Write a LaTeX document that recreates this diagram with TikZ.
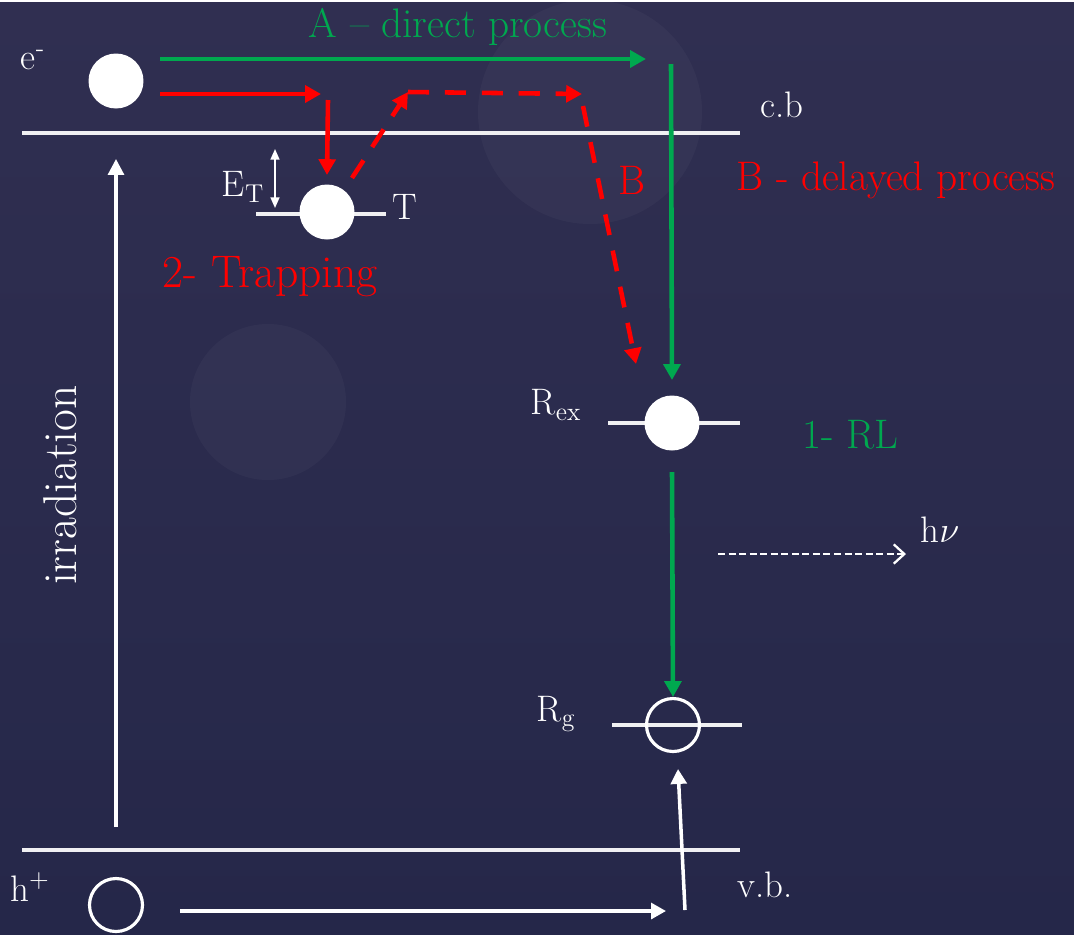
\documentclass[tikz,border=0pt]{standalone}
\usetikzlibrary{arrows.meta}
\definecolor{bgtop}{HTML}{302F51}
\definecolor{bgbot}{HTML}{252749}
\definecolor{grn}{HTML}{00A84F}
\definecolor{rd}{HTML}{FF0000}
\definecolor{lvlwhite}{HTML}{F0F0F2}
\begin{document}
\begin{tikzpicture}[x=0.02cm,y=-0.02cm,
	lvl/.style={draw=lvlwhite,line width=2.8pt},
	elec/.style={circle,fill=white,minimum size=1.1cm,inner sep=0pt},
	hole/.style={circle,draw=white,line width=1.8pt,minimum size=1.06cm,inner sep=0pt},
	garrow/.style={draw=grn,line width=2.6pt,-{Triangle[length=9pt,width=9.5pt]}},
	rarrow/.style={draw=rd,line width=2.6pt,-{Triangle[length=9pt,width=9.5pt]}},
	rdash/.style={rarrow,dash pattern=on 12pt off 9pt},
	warrow/.style={draw=white,line width=2pt,-{Triangle[length=8.5pt,width=9pt]}},
	lbl/.style={text=white,font=\fontsize{21}{25}\selectfont,inner sep=0pt},
	big/.style={font=\fontsize{23.5}{28}\selectfont,inner sep=0pt}]

	% Fons
	\shade[top color=bgtop,bottom color=bgbot] (0,0) rectangle (1074,932);
	\fill[white,opacity=0.03] (590,110) circle (112);
	\fill[white,opacity=0.03] (268,400) circle (78);

	% Nivells
	\coordinate (cbL) at (22,131);
	\coordinate (cbR) at (740,131);
	\coordinate (vbL) at (22,848);
	\coordinate (vbR) at (740,848);
	\draw[lvl] (cbL) -- (cbR);
	\draw[lvl] (vbL) -- (vbR);
	\draw[lvl] (256,212) -- (386,212);
	\draw[lvl] (608,421) -- (740,421);
	\draw[lvl] (612,723) -- (742,723);

	% Electrons i forats
	\node[elec] (eC) at (116,79) {};
	\node[elec] (tC) at (327,210) {};
	\node[elec] (rexC) at (672,421) {};
	\node[hole] (rgC) at (673,723) {};
	\node[hole] (hC) at (116,903) {};

	% Punts de les fletxes
	\coordinate (gA) at (160,57);
	\coordinate (gB) at (646,57);
	\coordinate (gC) at (671,62);
	\coordinate (rA) at (160,92);
	\coordinate (rB) at (321,92);
	\coordinate (rC) at (328,98);
	\coordinate (rD) at (352,176);
	\coordinate (rE) at (408,90);
	\coordinate (rF) at (582,92);
	\coordinate (rG) at (583,104);
	\coordinate (rH) at (636,362);
	\coordinate (irrA) at (116,825);
	\coordinate (irrB) at (116,157);
	\coordinate (etA) at (275,147);
	\coordinate (etB) at (275,206);
	\coordinate (hvA) at (718,552);
	\coordinate (hvB) at (906,552);
	\coordinate (hA) at (180,909);
	\coordinate (hB) at (666,909);
	\coordinate (hC2) at (685,908);

	% A - directe
	\draw[garrow] (gA) -- (gB);
	\draw[garrow] (gC) -- (rexC.north |- 0,378);
	\draw[garrow] (672,470) -- (rgC.north);

	% B - retardat
	\draw[rarrow] (rA) -- (rB);
	\draw[rarrow] (rC) -- (tC.north |- 0,173);
	\draw[rdash] (rD) -- (rE);
	\draw[rdash] (rE) -- (rF);
	\draw[rdash] (rG) -- (rH);

	% Blanques
	\draw[white,line width=1.8pt,-{Triangle[length=9pt,width=9pt]}] (irrA) -- (irrB);
	\draw[white,line width=1pt,{Triangle[length=6pt,width=5pt]}-{Triangle[length=6pt,width=5pt]}] (etA) -- (etB);
	\draw[white,line width=1.3pt,dash pattern=on 4pt off 2pt,-{Straight Barb[length=6pt,width=11pt,line width=1.3pt]}] (hvA) -- (hvB);
	\draw[warrow] (hA) -- (hB);
	\draw[warrow] (hC2) -- (678,767);

	% Etiquetes
	\node[lbl] (eLbl) at (33,58) {e\textsuperscript{-}};
	\node[lbl] (cbLbl) at (782,103) {c.b};
	\node[lbl] (etLbl) at (243,185) {E\textsubscript{T}};
	\node[lbl] (tLbl) at (405,205) {T};
	\node[lbl,rotate=90,font=\fontsize{27}{32}\selectfont] (irrLbl) at (60,483) {irradiation};
	\node[lbl] (rexLbl) at (556,403) {R\textsubscript{ex}};
	\node[lbl] (hvLbl) at (940,528) {h$\nu$};
	\node[lbl] (rgLbl) at (556,712) {R\textsubscript{g}};
	\node[lbl] (hLbl) at (30,885) {h\textsuperscript{+}};
	\node[lbl] (vbLbl) at (765,883) {v.b.};

	\node[big,text=grn] (aLbl) at (458,25) {A -- direct process};
	\node[big,text=rd] (bLbl) at (632,178) {B};
	\node[big,text=rd] (bDel) at (896,178) {B - delayed process};
	\node[big,text=rd,font=\fontsize{26}{31}\selectfont] (trLbl) at (270,275) {2- Trapping};
	\node[big,text=grn] (rlLbl) at (850,433) {1- RL};

\end{tikzpicture}
\end{document}
